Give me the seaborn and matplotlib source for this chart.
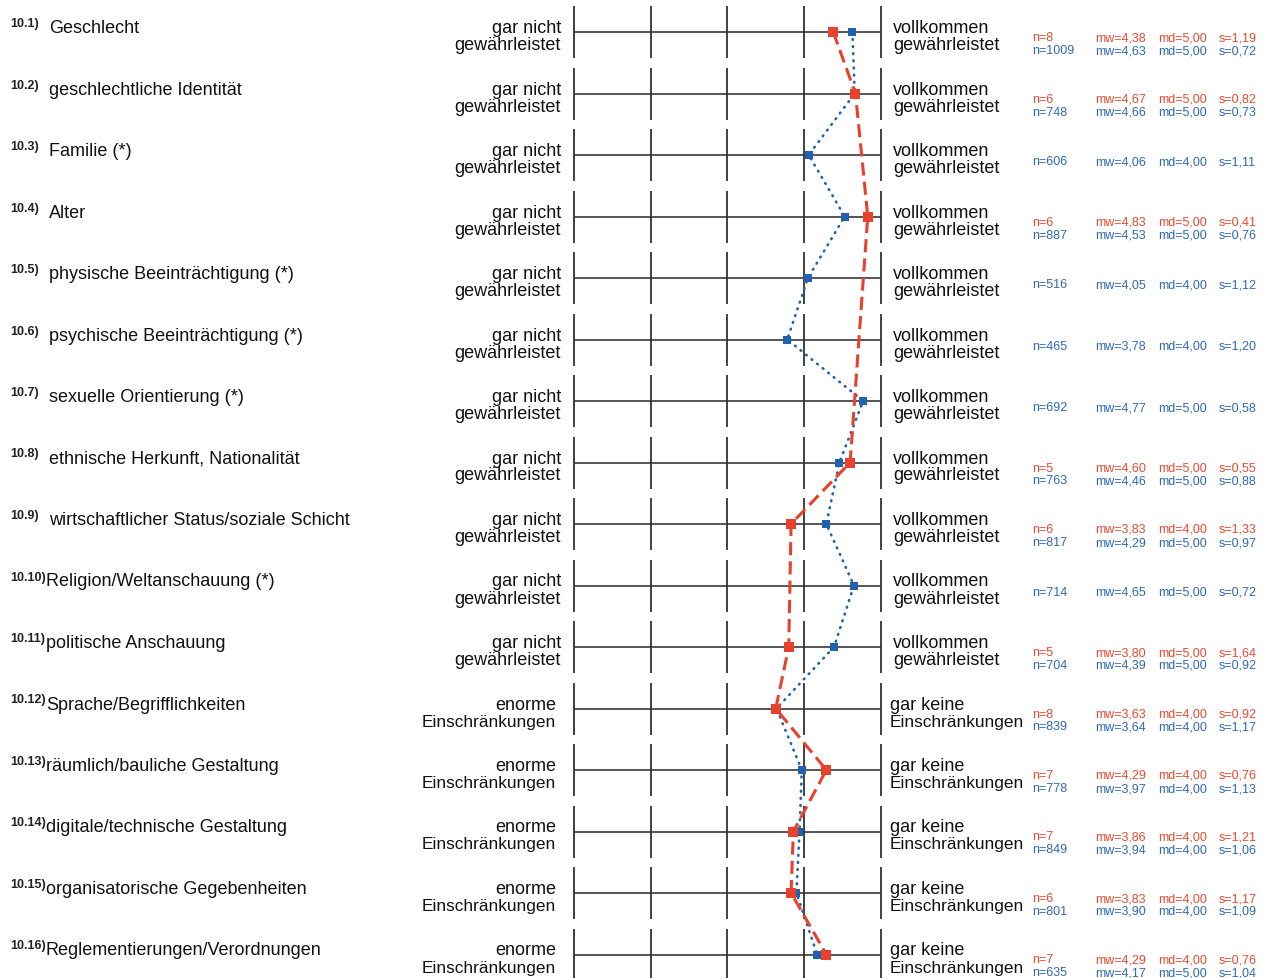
import matplotlib
matplotlib.use("Agg")
import matplotlib.pyplot as plt
import seaborn as sns
import numpy as np
import pandas as pd

codes = ["10.1)", "10.2)", "10.3)", "10.4)", "10.5)", "10.6)", "10.7)", "10.8)",
         "10.9)", "10.10)", "10.11)", "10.12)", "10.13)", "10.14)", "10.15)", "10.16)"]
labels = ["Geschlecht", "geschlechtliche Identität", "Familie (*)", "Alter",
          "physische Beeinträchtigung (*)", "psychische Beeinträchtigung (*)",
          "sexuelle Orientierung (*)", "ethnische Herkunft, Nationalität",
          "wirtschaftlicher Status/soziale Schicht", "Religion/Weltanschauung (*)",
          "politische Anschauung", "Sprache/Begrifflichkeiten",
          "räumlich/bauliche Gestaltung", "digitale/technische Gestaltung",
          "organisatorische Gegebenheiten", "Reglementierungen/Verordnungen"]
left_anchor = [("gar nicht", "gewährleistet")] * 11 + [("enorme", "Einschränkungen")] * 5
right_anchor = [("vollkommen", "gewährleistet")] * 11 + [("gar keine", "Einschränkungen")] * 5

nan = np.nan
red_mw = [4.38, 4.67, nan, 4.83, nan, nan, nan, 4.60, 3.83, nan, 3.80, 3.63, 4.29, 3.86, 3.83, 4.29]
red_n = [8, 6, nan, 6, nan, nan, nan, 5, 6, nan, 5, 8, 7, 7, 6, 7]
red_md = [5.00, 5.00, nan, 5.00, nan, nan, nan, 5.00, 4.00, nan, 5.00, 4.00, 4.00, 4.00, 4.00, 4.00]
red_s = [1.19, 0.82, nan, 0.41, nan, nan, nan, 0.55, 1.33, nan, 1.64, 0.92, 0.76, 1.21, 1.17, 0.76]

blue_mw = [4.63, 4.66, 4.06, 4.53, 4.05, 3.78, 4.77, 4.46, 4.29, 4.65, 4.39, 3.64, 3.97, 3.94, 3.90, 4.17]
blue_n = [1009, 748, 606, 887, 516, 465, 692, 763, 817, 714, 704, 839, 778, 849, 801, 635]
blue_md = [5.00, 5.00, 4.00, 5.00, 4.00, 4.00, 5.00, 5.00, 5.00, 5.00, 5.00, 4.00, 4.00, 4.00, 4.00, 5.00]
blue_s = [0.72, 0.73, 1.11, 0.76, 1.12, 1.20, 0.58, 0.88, 0.97, 0.72, 0.92, 1.17, 1.13, 1.06, 1.09, 1.04]

scale_points = [1, 2, 3, 4, 5]

RED = "#e8412c"
BLUE = "#2062ad"
RED_T = "#ea4a30"
BLUE_T = "#3168b4"

sns.set_style("white")
plt.rcParams['font.family'] = ['Liberation Sans', 'DejaVu Sans']

W, H = 1271, 979
fig = plt.figure(figsize=(W / 100, H / 100), dpi=100)
ax = fig.add_axes([0, 0, 1, 1])

# pixel layout helpers
XA, XS = 574.0, 76.7
YA, YS = 33.0, 61.5
def xv(px):
    return 1 + (px - XA) / XS
def yo(px):
    return px / YS

ax.set_xlim(xv(0), xv(W))
ax.set_ylim((H - YA) / YS, (0 - YA) / YS)
ax.axis("off")

rows = np.arange(len(labels))

# scale lines
for i in rows:
    ax.hlines(i, scale_points[0], scale_points[-1], color="#555555", lw=1.4, zorder=1)
    ax.vlines(scale_points, i - yo(26), i + yo(26), color="#333333", lw=1.3, zorder=1)

df = pd.DataFrame({"row": rows, "red": red_mw, "blue": blue_mw})
dr = df.dropna(subset=["red"])
sns.lineplot(data=df, x="blue", y="row", sort=False, estimator=None, ax=ax,
             color=BLUE, lw=1.9, linestyle=(0, (0.3, 2.4)), marker="s",
             markersize=6, markeredgewidth=0, markerfacecolor=BLUE, zorder=3,
             dash_capstyle="round")
sns.lineplot(data=dr, x="red", y="row", sort=False, estimator=None, ax=ax,
             color=RED, lw=2.2, linestyle=(0, (4.3, 2.0)), marker="s",
             markersize=6.5, markeredgewidth=0, markerfacecolor=RED, zorder=4)
if ax.get_legend():
    ax.get_legend().remove()

def fmt(v):
    return f"{v:.2f}".replace(".", ",")

for i in rows:
    lower = i >= 11
    # left labels
    ax.text(xv(10), i - yo(6), codes[i], fontsize=9, fontweight="bold", ha="left",
            va="baseline", color="#222")
    ax.text(xv(49 if i < 9 else 46), i, labels[i], fontsize=13, ha="left", va="baseline", color="#111")
    # anchors
    fs2 = 12.4 if lower else 13
    lx = xv(556 if lower else 561)
    ax.text(lx, i, left_anchor[i][0], fontsize=13, ha="right", va="baseline", color="#111")
    ax.text(lx, i + yo(17), left_anchor[i][1], fontsize=fs2, ha="right", va="baseline", color="#111")
    rx = xv(890 if lower else 893)
    ax.text(rx, i, right_anchor[i][0], fontsize=13, ha="left", va="baseline", color="#111")
    ax.text(rx, i + yo(17), right_anchor[i][1], fontsize=fs2, ha="left", va="baseline", color="#111")
    # stats
    cols = [xv(1032), xv(1095), xv(1158), xv(1219)]
    has_red = not np.isnan(red_mw[i])
    if has_red:
        yr, yb = i + yo(8), i + yo(21)
        vals = [f"n={int(red_n[i])}", f"mw={fmt(red_mw[i])}", f"md={fmt(red_md[i])}", f"s={fmt(red_s[i])}"]
        for cx, t in zip(cols, vals):
            ax.text(cx, yr, t, fontsize=9, ha="left", va="baseline", color=RED_T)
    else:
        yb = i + yo(9)
    vals = [f"n={blue_n[i]}", f"mw={fmt(blue_mw[i])}", f"md={fmt(blue_md[i])}", f"s={fmt(blue_s[i])}"]
    for cx, t in zip(cols, vals):
        ax.text(cx, yb, t, fontsize=9, ha="left", va="baseline", color=BLUE_T)

fig.savefig("out.png", dpi=100, facecolor="white")
